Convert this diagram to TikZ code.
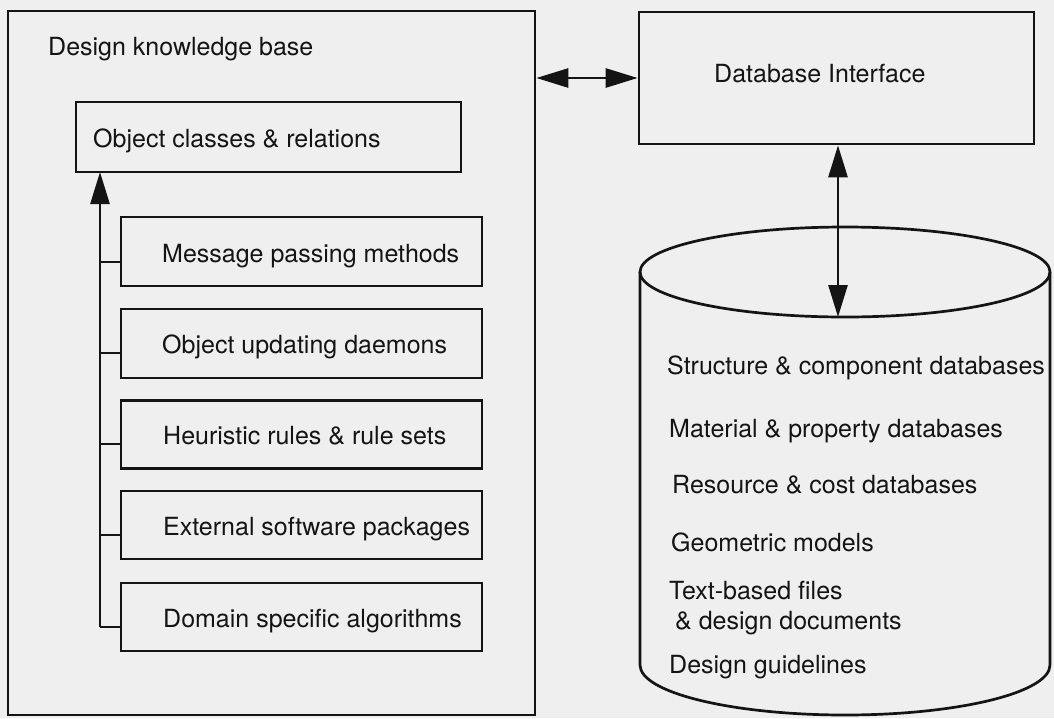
\documentclass[tikz,border=0pt]{standalone}
\usepackage{fontspec}
\setmainfont{TeX Gyre Heros}
\usetikzlibrary{arrows.meta}
\definecolor{paper}{HTML}{EFEFEF}
\definecolor{ink}{HTML}{141414}
\tikzset{
  box/.style={draw=ink, line width=2.7pt, rectangle, inner sep=0pt},
  lbl/.style={anchor=base west, inner sep=0pt, text=ink, font=\fontsize{25}{30}\selectfont},
  link/.style={draw=ink, line width=2.7pt},
  head/.style={Triangle[length=32pt,width=19pt]},
  tip/.style={-{Triangle[length=32pt,width=19pt]}},
  tips/.style={{Triangle[length=32pt,width=19pt]}-{Triangle[length=32pt,width=19pt]}},
}
\begin{document}
\begin{tikzpicture}[x=1pt,y=-1pt]
  \fill[paper] (0,0) rectangle (1054,718);
  \useasboundingbox (0,0) rectangle (1054,718);

  % knowledge base frame and its parts
  \node[box, minimum width=527pt, minimum height=704pt] (kb) at (271.5,363) {};
  \node[lbl] (kbt) at (48,55) {Design knowledge base};

  \node[box, minimum width=385pt, minimum height=70pt] (occ) at (268.5,137) {};
  \node[lbl] (occt) at (93,147) {Object classes \& relations};

  \node[box, minimum width=361pt, minimum height=69pt] (mpm) at (301.5,251.5) {};
  \node[lbl] (mpmt) at (162,262) {Message passing methods};
  \node[box, minimum width=361pt, minimum height=69pt] (oud) at (301.5,343.5) {};
  \node[lbl] (oudt) at (162,353) {Object updating daemons};
  \node[box, minimum width=361pt, minimum height=68pt] (hrs) at (301.5,434.5) {};
  \node[lbl] (hrst) at (163,444) {Heuristic rules \& rule sets};
  \node[box, minimum width=361pt, minimum height=68pt] (esp) at (301.5,525) {};
  \node[lbl] (espt) at (163,535) {External software packages};
  \node[box, minimum width=361pt, minimum height=68pt] (dsa) at (301.5,617) {};
  \node[lbl] (dsat) at (163,627) {Domain specific algorithms};

  % trunk collecting the parts into the class model
  \coordinate (trunktop) at (100,172);
  \coordinate (trunkbot) at (100,627);
  \draw[link, tip] (trunkbot) -- (trunktop);
  \foreach \n/\y in {mpm/262, oud/353, hrs/444, esp/535, dsa/627}
    \draw[link] (100,\y) -- (\n.west |- 100,\y);

  % database interface
  \node[box, minimum width=395pt, minimum height=132pt] (dbi) at (836.5,78) {};
  \node[lbl] (dbit) at (714,82) {Database Interface};
  \draw[link, tips] (kb.east |- dbi.west) -- (dbi.west);

  % data store cylinder
  \draw[ink, line width=2.7pt] (845,272) ellipse [x radius=205pt, y radius=45pt];
  \draw[ink, line width=2.7pt] (640,272) -- (640,665)
    arc[start angle=180, end angle=360, x radius=205pt, y radius=50pt]
    -- (1050,272);
  \coordinate (cyltop) at (838,317);
  \draw[link, tips] (dbi.south -| cyltop) -- (cyltop);

  \node[lbl] (s1) at (667,374) {Structure \& component databases};
  \node[lbl] (s2) at (669,437) {Material \& property databases};
  \node[lbl] (s3) at (672,493) {Resource \& cost databases};
  \node[lbl] (s4) at (671,551) {Geometric models};
  \node[lbl] (s5) at (669,599) {Text-based files};
  \node[lbl] (s6) at (675,629) {\& design documents};
  \node[lbl] (s7) at (669,673) {Design guidelines};
\end{tikzpicture}
\end{document}
